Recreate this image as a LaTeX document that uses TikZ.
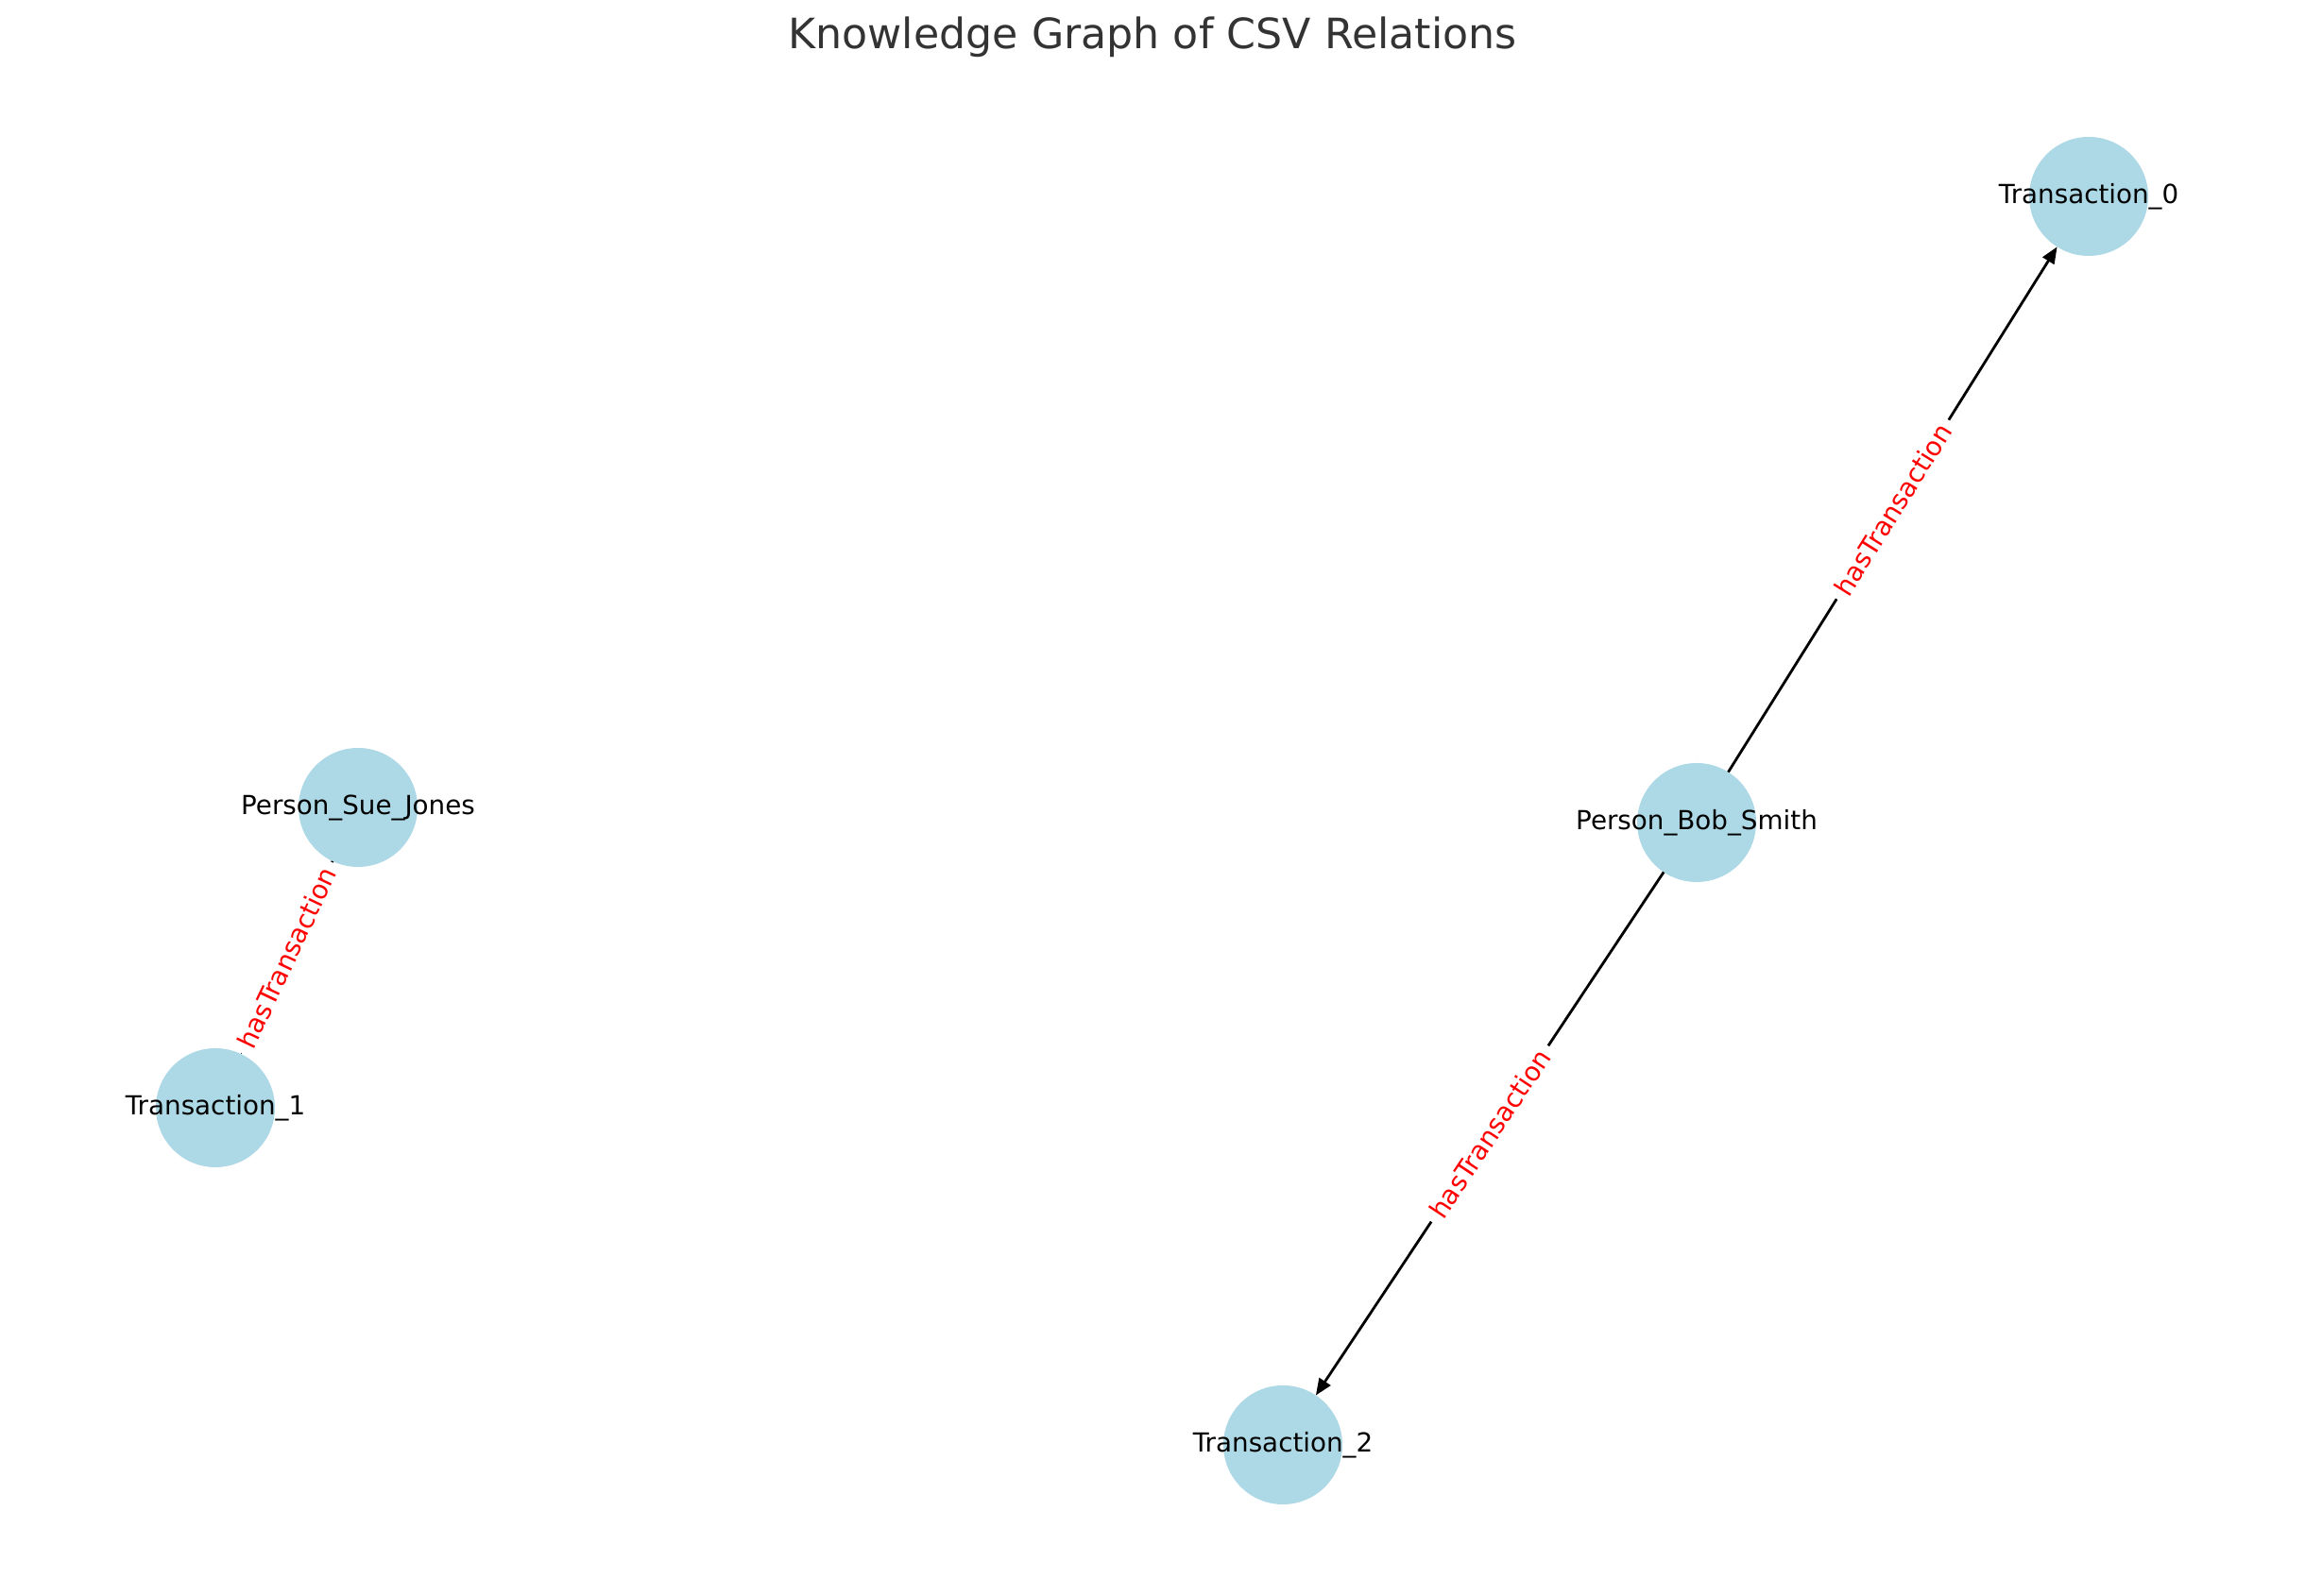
\documentclass[tikz,border=0pt]{standalone}
\usepackage{fontspec}
\setmainfont{DejaVu Sans}
\usetikzlibrary{arrows.meta}
\definecolor{nodeblue}{HTML}{ADD8E6}
\definecolor{titlegray}{HTML}{333333}
\tikzset{
  entity/.style={circle,fill=nodeblue,minimum size=1.26cm,inner sep=0pt,outer sep=0pt,
    label={[font=\fontsize{7.9}{9}\selectfont,inner sep=0pt]center:#1}},
  relation/.style={-{Triangle[length=5pt,width=4pt]},line width=0.8pt},
  rellabel/.style={midway,sloped,fill=white,inner sep=2.2pt,text=red,font=\fontsize{7.9}{9}\selectfont}
}
\begin{document}
\begin{tikzpicture}
%\draw[step=1cm,gray,very thin] (0,0) grid (24.4,16.9); %background grid
\useasboundingbox (0,0) rectangle (24.4,16.9);

\node[text=titlegray,font=\fontsize{12.6}{15}\selectfont] (title) at (12.2,16.51) {Knowledge Graph of CSV Relations};

\node[entity=Transaction\_0] (t0) at (22.11,14.82) {};
\node[entity=Person\_Bob\_Smith] (bob) at (17.96,8.19) {};
\node[entity=Transaction\_2] (t2) at (13.58,1.60) {};
\node[entity=Person\_Sue\_Jones] (sue) at (3.79,8.35) {};
\node[entity=Transaction\_1] (t1) at (2.28,5.17) {};

\draw[relation] (bob) -- (t0) node[rellabel] {hasTransaction};
\draw[relation] (bob) -- (t2) node[rellabel] {hasTransaction};
\draw[relation] (sue) -- (t1) node[rellabel] {hasTransaction};

\end{tikzpicture}
\end{document}
